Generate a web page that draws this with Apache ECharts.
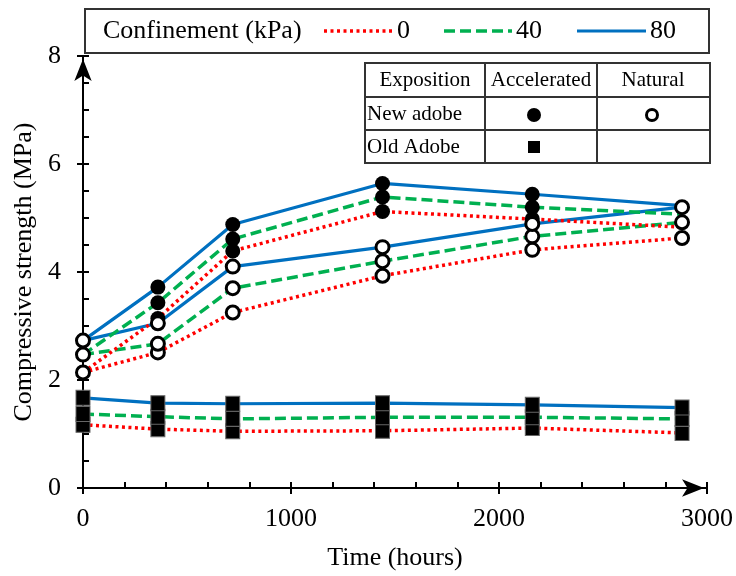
<!DOCTYPE html>
<html>
<head>
<meta charset="utf-8">
<script src="https://cdn.jsdelivr.net/npm/echarts@6/dist/echarts.min.js"></script>
<style>html,body{margin:0;padding:0;background:#fff}#c{width:736px;height:576px}</style>
</head>
<body>
<div id="c"></div>
<script>
// ---- data ----
var time = [0, 360, 720, 1440, 2160, 2880];
var confinements = ['0', '40', '80'];
var newAcc0  = [2.14, 3.14, 4.39, 5.12, 4.98, 4.83];
var newAcc40 = [2.47, 3.43, 4.61, 5.39, 5.20, 5.07];
var newAcc80 = [2.73, 3.72, 4.88, 5.64, 5.44, 5.23];
var newNat0  = [2.14, 2.51, 3.25, 3.93, 4.41, 4.63];
var newNat40 = [2.47, 2.67, 3.70, 4.20, 4.66, 4.92];
var newNat80 = [2.73, 3.05, 4.10, 4.46, 4.89, 5.20];
var oldAcc0  = [1.17, 1.09, 1.05, 1.06, 1.11, 1.02];
var oldAcc40 = [1.37, 1.32, 1.28, 1.31, 1.31, 1.28];
var oldAcc80 = [1.67, 1.57, 1.56, 1.57, 1.54, 1.49];
var xTicks = [0, 1000, 2000, 3000];
var yTicks = [0, 2, 4, 6, 8];

var FONT = '"Liberation Serif", "Times New Roman", serif';
var styles = {
  '0':  {color: '#ff0000', type: [3, 3.5], width: 3.5},
  '40': {color: '#00b050', type: [11, 5], width: 3.5},
  '80': {color: '#0070c0', type: 'solid', width: 3.2}
};
function pairs(arr) { return time.map(function (t, i) { return [t, arr[i]]; }); }
function lineSeries(conf, arr) {
  var s = styles[conf];
  return {type: 'line', name: conf, data: pairs(arr), showSymbol: false, symbol: 'none', z: 2,
    lineStyle: {color: s.color, type: s.type, width: s.width, cap: 'butt'}, silent: true, animation: false};
}
function markerSeries(arr, kind, skipEnds) {
  var d = pairs(arr);
  if (skipEnds) d = d.slice(1, d.length - 1);
  var base = {type: 'scatter', data: d, z: kind === 'open' ? 5 : 4, animation: false, silent: true};
  if (kind === 'filled') { base.symbol = 'circle'; base.symbolSize = 15; base.itemStyle = {color: '#000', opacity: 1}; }
  if (kind === 'open') { base.symbol = 'circle'; base.symbolSize = 13; base.itemStyle = {color: '#fff', borderColor: '#000', borderWidth: 3, opacity: 1}; }
  if (kind === 'square') { base.symbol = 'rect'; base.symbolSize = [14, 15]; base.itemStyle = {color: '#000', borderColor: '#666', borderWidth: 1, opacity: 1}; }
  return base;
}

var series = [
  lineSeries('0', oldAcc0), lineSeries('40', oldAcc40), lineSeries('80', oldAcc80),
  lineSeries('0', newNat0), lineSeries('40', newNat40), lineSeries('80', newNat80),
  lineSeries('0', newAcc0), lineSeries('40', newAcc40), lineSeries('80', newAcc80),
  markerSeries(oldAcc0, 'square'), markerSeries(oldAcc40, 'square'), markerSeries(oldAcc80, 'square'),
  markerSeries(newAcc0, 'filled', true), markerSeries(newAcc40, 'filled', true), markerSeries(newAcc80, 'filled', true),
  markerSeries(newNat0, 'open'), markerSeries(newNat40, 'open'), markerSeries(newNat80, 'open')
];

var axisTextStyle = {color: '#000', fontFamily: FONT, fontSize: 26};

// legend & table graphics
var g = [];
g.push({type: 'rect', shape: {x: 85, y: 9, width: 624, height: 44}, style: {fill: '#fff', stroke: '#333', lineWidth: 2}, z: 10});
g.push({type: 'text', x: 103, y: 31, style: {text: 'Confinement (kPa)', fontFamily: FONT, fontSize: 26, fill: '#000', verticalAlign: 'middle'}, z: 11});
var legendPos = [[324, 392, 397], [444, 512, 516], [577, 646, 650]];
confinements.forEach(function (c, i) {
  var s = styles[c], p = legendPos[i];
  g.push({type: 'line', shape: {x1: p[0], y1: 31, x2: p[1], y2: 31}, style: {stroke: s.color, lineWidth: s.width, lineDash: s.type === 'solid' ? null : s.type}, z: 11});
  g.push({type: 'text', x: p[2], y: 31, style: {text: c, fontFamily: FONT, fontSize: 26, fill: '#000', verticalAlign: 'middle'}, z: 11});
});
// table
var tx = [365, 485, 597, 710], ty = [63, 97, 130, 163];
g.push({type: 'rect', shape: {x: tx[0], y: ty[0], width: tx[3] - tx[0], height: ty[3] - ty[0]}, style: {fill: '#fff', stroke: '#333', lineWidth: 2}, z: 10});
tx.slice(1, 3).forEach(function (x) { g.push({type: 'line', shape: {x1: x, y1: ty[0], x2: x, y2: ty[3]}, style: {stroke: '#333', lineWidth: 2}, z: 11}); });
ty.slice(1, 3).forEach(function (y) { g.push({type: 'line', shape: {x1: tx[0], y1: y, x2: tx[3], y2: y}, style: {stroke: '#333', lineWidth: 2}, z: 11}); });
function cellText(t, x, y, align) {
  g.push({type: 'text', x: x, y: y, style: {text: t, fontFamily: FONT, fontSize: 21, fill: '#000', align: align, verticalAlign: 'middle'}, z: 12});
}
cellText('Exposition', 425, 80, 'center');
cellText('Accelerated', 541, 80, 'center');
cellText('Natural', 653, 80, 'center');
cellText('New adobe', 367, 114, 'left');
cellText('Old Adobe', 367, 147, 'left');
g.push({type: 'circle', shape: {cx: 534, cy: 115, r: 7}, style: {fill: '#000'}, z: 12});
g.push({type: 'circle', shape: {cx: 652, cy: 115, r: 5.5}, style: {fill: '#fff', stroke: '#000', lineWidth: 3}, z: 12});
g.push({type: 'rect', shape: {x: 528, y: 141, width: 12, height: 12}, style: {fill: '#000'}, z: 12});

var option = {
  animation: false,
  backgroundColor: '#fff',
  grid: {left: 83, right: 27, top: 56, bottom: 87, containLabel: false},
  xAxis: [{
    type: 'value', min: 0, max: 3000, interval: 1000, position: 'bottom',
    name: 'Time (hours)', nameLocation: 'middle', nameGap: 57, nameTextStyle: axisTextStyle,
    axisLine: {show: true, onZero: false, lineStyle: {color: '#000', width: 2}, symbol: ['none', 'arrow'], symbolSize: [13, 22], symbolOffset: [0, -3]},
    axisTick: {show: true, inside: false, length: 6, lineStyle: {color: '#000', width: 2}},
    axisLabel: {color: '#000', fontFamily: FONT, fontSize: 26, margin: 18,
      formatter: function (v) { return xTicks.indexOf(v) >= 0 ? String(v) : ''; }},
    splitLine: {show: false}
  }, {
    type: 'value', min: 0, max: 3000, interval: 200, position: 'bottom', offset: 0,
    axisLine: {show: false}, axisLabel: {show: false}, splitLine: {show: false},
    axisTick: {show: true, inside: true, length: 6, lineStyle: {color: '#000', width: 2}}
  }],
  yAxis: [{
    type: 'value', min: 0, max: 8, interval: 2, position: 'left',
    name: 'Compressive strength (MPa)', nameLocation: 'middle', nameGap: 41, nameTextStyle: axisTextStyle,
    axisLine: {show: true, onZero: false, lineStyle: {color: '#000', width: 2}, symbol: ['none', 'arrow'], symbolSize: [13, 22], symbolOffset: [0, -3]},
    axisTick: {show: true, inside: false, length: 6, lineStyle: {color: '#000', width: 2}},
    axisLabel: {color: '#000', fontFamily: FONT, fontSize: 26, margin: 22,
      formatter: function (v) { return yTicks.indexOf(v) >= 0 ? String(v) : ''; }},
    splitLine: {show: false}
  }, {
    type: 'value', min: 0, max: 8, interval: 0.5, position: 'left', offset: 0,
    axisLine: {show: false}, axisLabel: {show: false}, splitLine: {show: false},
    axisTick: {show: true, inside: true, length: 6, lineStyle: {color: '#000', width: 2}}
  }],
  series: series,
  graphic: g
};
var chart = echarts.init(document.getElementById('c'), null, {renderer: 'canvas'});
chart.setOption(option);
</script>
</body>
</html>
